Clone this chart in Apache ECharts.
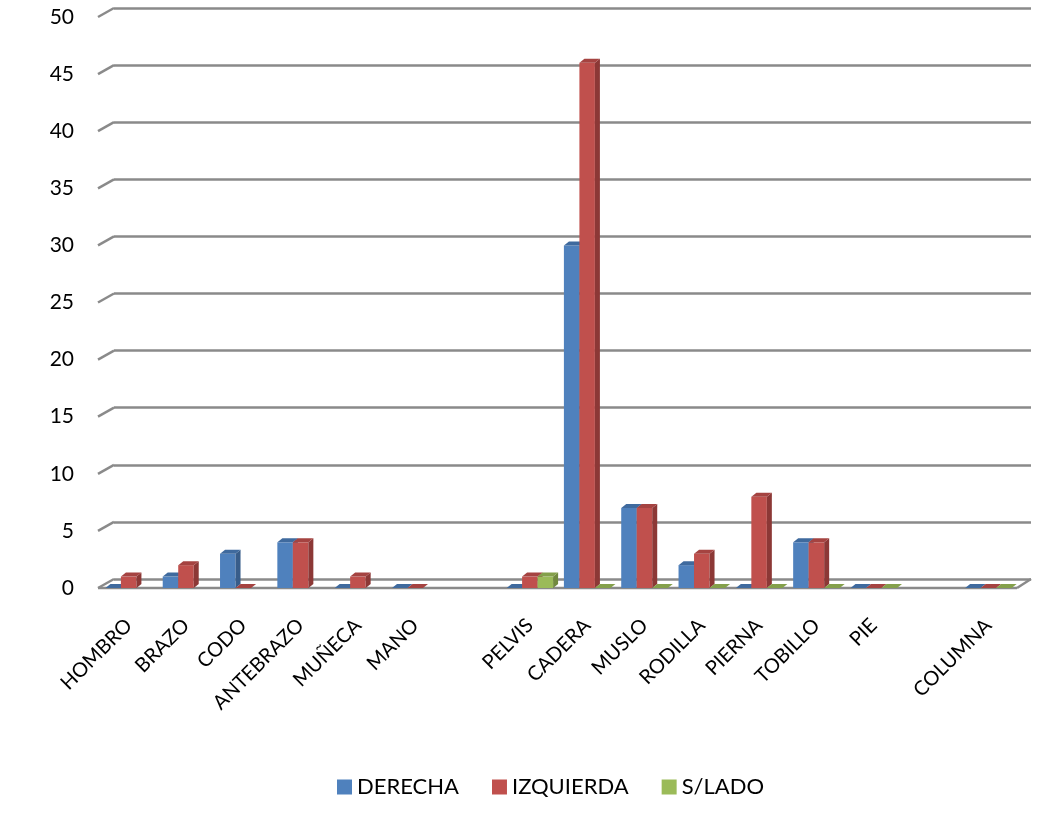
<!DOCTYPE html>
<html>
<head>
<meta charset="utf-8">
<script src="https://cdn.jsdelivr.net/npm/echarts@6/dist/echarts.min.js"></script>
<style>
  html, body { margin: 0; padding: 0; background: #fff; }
  #chart { width: 1061px; height: 824px; }
  #frame { position: absolute; left: 7px; top: 0; width: 2px; height: 824px; background: #8a8a8a; }
</style>
</head>
<body>
<div id="frame"></div>
<div id="chart"></div>
<script>
// chart data
const categories = ['HOMBRO', 'BRAZO', 'CODO', 'ANTEBRAZO', 'MUÑECA', 'MANO', '',
  'PELVIS', 'CADERA', 'MUSLO', 'RODILLA', 'PIERNA', 'TOBILLO', 'PIE', '', 'COLUMNA']
const derecha = [0, 1, 3, 4, 0, 0, null, 0, 30, 7, 2, 0, 4, 0, null, 0]
const izquierda = [1, 2, 0, 4, 1, 0, null, 1, 46, 7, 3, 8, 4, 0, null, 0]
const sinLado = [null, null, null, null, null, null, null, 1, 0, 0, 0, 0, 0, 0, null, 0]
const yTicks = [0, 5, 10, 15, 20, 25, 30, 35, 40, 45, 50]

const seriesDefs = [
  { name: 'DERECHA', values: derecha, color: '#4F81BD', top: '#3F6A9E', side: '#385D8A' },
  { name: 'IZQUIERDA', values: izquierda, color: '#C0504D', top: '#A54341', side: '#8C3836' },
  { name: 'S/LADO', values: sinLado, color: '#9BBB59', top: '#84A04B', side: '#71893F' }
]

const BAR_W = 15.5
const DX = 5, DY = -4       // bar depth
const WX = 14, WY = -9      // back wall offset
const FONT = 'Lato, "Open Sans", sans-serif'

function barRenderer (sIdx, def) {
  return function (params, api) {
    const i = api.value(0)
    const v = api.value(1)
    const top = api.coord([i, v])
    const base = api.coord([i, 0])
    const x0 = top[0] - BAR_W * 3 / 2 + sIdx * BAR_W
    const x1 = x0 + BAR_W
    const yT = top[1]
    const yB = base[1]
    const children = []
    if (yB - yT > 0.5) {
      children.push({ type: 'rect', shape: { x: x0, y: yT, width: BAR_W, height: yB - yT }, style: { fill: def.color } })
      children.push({ type: 'polygon', shape: { points: [[x1, yT], [x1 + DX, yT + DY], [x1 + DX, yB + DY], [x1, yB]] }, style: { fill: def.side } })
    }
    children.push({ type: 'polygon', shape: { points: [[x0, yT], [x1, yT], [x1 + DX, yT + DY], [x0 + DX, yT + DY]] }, style: { fill: def.top } })
    return { type: 'group', children }
  }
}

function wallRenderer (params, api) {
  const v = api.value(0)
  const p = api.coord([0, v])
  const band = api.size([1, 0])[0]
  const xl = p[0] - band / 2
  const xr = xl + band * categories.length
  const y = p[1]
  const style = { stroke: '#8a8a8a', lineWidth: 2.5 }
  const children = [
    { type: 'line', shape: { x1: xl - 2, y1: y, x2: xl + WX, y2: y + WY }, style }
  ]
  if (v === 0) {
    children.push({ type: 'line', shape: { x1: xl - 2, y1: y, x2: xr, y2: y }, style })
    children.push({ type: 'line', shape: { x1: xr, y1: y, x2: xr + WX, y2: y + WY }, style })
  }
  return { type: 'group', children }
}

const series = [
  {
    type: 'custom',
    name: 'wall',
    xAxisIndex: 0,
    yAxisIndex: 0,
    silent: true,
    renderItem: wallRenderer,
    data: yTicks.map(t => [t]),
    encode: { y: 0 },
    z: 1
  }
]
seriesDefs.forEach((def, sIdx) => {
  series.push({
    type: 'custom',
    name: def.name,
    xAxisIndex: 0,
    yAxisIndex: 0,
    itemStyle: { color: def.color },
    renderItem: barRenderer(sIdx, def),
    data: def.values.map((v, i) => [i, v]).filter(d => d[1] !== null),
    encode: { x: 0, y: 1 },
    z: 3
  })
})

const option = {
  backgroundColor: '#fff',
  animation: false,
  textStyle: { fontFamily: FONT },
  grid: [
    { left: 100, top: 17, width: 917, height: 571 },
    { left: 100 + WX, top: 17 + WY, width: 917, height: 571 }
  ],
  xAxis: [
    {
      type: 'category',
      gridIndex: 0,
      data: categories,
      boundaryGap: true,
      axisLine: { show: false },
      axisTick: { show: false },
      axisLabel: { interval: 0, rotate: 45, margin: 34, fontSize: 20, color: '#000', fontFamily: FONT }
    },
    {
      type: 'category',
      gridIndex: 1,
      data: categories,
      show: false
    }
  ],
  yAxis: [
    {
      type: 'value',
      gridIndex: 0,
      min: 0,
      max: 50,
      interval: 5,
      axisLine: { show: false },
      axisTick: { show: false },
      splitLine: { show: false },
      axisLabel: { margin: 26, fontSize: 21, color: '#000', fontFamily: FONT }
    },
    {
      type: 'value',
      gridIndex: 1,
      min: 0,
      max: 50,
      interval: 5,
      axisLine: { show: false },
      axisTick: { show: false },
      axisLabel: { show: false },
      splitLine: { show: true, lineStyle: { color: '#8a8a8a', width: 2.5 } }
    }
  ],
  legend: {
    data: seriesDefs.map(d => d.name),
    bottom: 21,
    left: 332,
    icon: 'rect',
    itemWidth: 15,
    itemHeight: 15,
    itemGap: 33,
    textStyle: { fontSize: 22, color: '#000', fontFamily: FONT }
  },
  series
}

const myChart = echarts.init(document.getElementById('chart'))
myChart.setOption(option)
</script>
</body>
</html>
